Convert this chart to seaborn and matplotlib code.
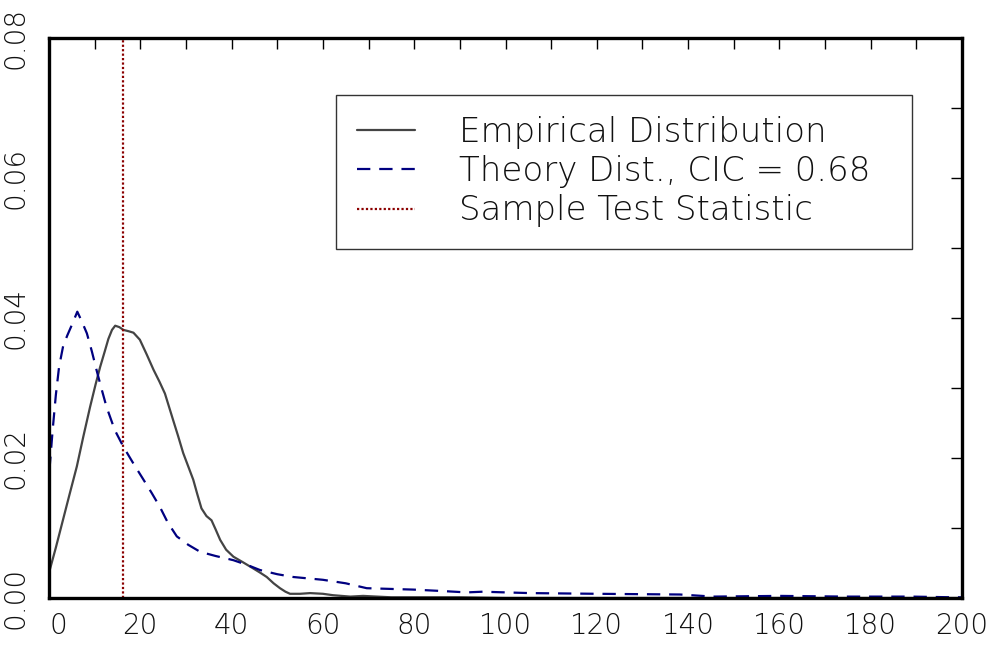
import numpy as np
import pandas as pd
import matplotlib
matplotlib.use("Agg")
import matplotlib.pyplot as plt
import matplotlib.transforms as mtransforms
import seaborn as sns

# empirical density
emp_x = [0, 1.5, 3, 4.5, 6.1, 7.5, 9.0, 10.2, 11.2, 12.2, 13.0, 13.8, 14.5, 15.4, 16.3,
         17.5, 18.5, 19.9, 21.4, 22.9, 24.2, 25.4, 26.3, 27.2, 28.3, 29.4, 30.5, 31.6,
         32.5, 33.4, 34.5, 35.6, 36.5, 37.5, 38.8, 40.4, 42.5, 44.8, 46.3, 47.7, 49.2,
         50.6, 51.8, 52.8, 55, 57.2, 60, 62.2, 66, 68.8, 75, 90, 100, 200]
emp_y = [0.0036, 0.0072, 0.0110, 0.0148, 0.0188, 0.0230, 0.0273, 0.0305, 0.0330, 0.0352,
         0.0370, 0.0383, 0.0389, 0.0387, 0.0383, 0.0381, 0.0379, 0.0369, 0.0348, 0.0326,
         0.0309, 0.0292, 0.0273, 0.0254, 0.0231, 0.0207, 0.0188, 0.0169, 0.0148, 0.0128,
         0.0117, 0.0111, 0.0098, 0.0083, 0.0069, 0.0059, 0.0051, 0.0042, 0.0036, 0.0030,
         0.0021, 0.0014, 0.0009, 0.0006, 0.0006, 0.0007, 0.0006, 0.0004, 0.0002, 0.0003,
         0.0001, 0.0001, 0.0, 0.0]

# theory density
th_x = [0.1, 0.8, 1.5, 2.2, 3.1, 4.0, 5.0, 6.2, 7.2, 8.3, 9.4, 10.4, 11.5, 12.6, 14.4,
        16.3, 18.5, 20.7, 22.5, 24.3, 26.0, 28.0, 30.5, 33.1, 36.5, 40.4, 43.5, 46.2,
        50, 53.5, 60, 65, 69.6, 79.8, 86, 91.5, 95, 100, 105.4, 120, 138.2, 145.5, 160,
        174.7, 189, 198, 200]
th_y = [0.0183, 0.0240, 0.0290, 0.0330, 0.0360, 0.0375, 0.0390, 0.0409, 0.0395, 0.0378,
        0.0352, 0.0326, 0.0299, 0.0273, 0.0240, 0.0216, 0.0192, 0.0169, 0.0150, 0.0130,
        0.0108, 0.0088, 0.0076, 0.0066, 0.0060, 0.0054, 0.0047, 0.0040, 0.0034, 0.0030,
        0.0026, 0.0021, 0.0014, 0.0012, 0.0010, 0.0008, 0.0009, 0.0008, 0.0007, 0.0006,
        0.0005, 0.0002, 0.0003, 0.0002, 0.0002, 0.0001, 0.0001]

test_stat = 16.3

x_ticks = list(range(0, 201, 20))
y_ticks = [0.00, 0.02, 0.04, 0.06, 0.08]
labels = ["Empirical Distribution", "Theory Dist., CIC = 0.68", "Sample Test Statistic"]

sns.set_style("white")
plt.rcParams['font.family'] = ['DejaVu Sans']
plt.rcParams['font.weight'] = 'light'
plt.rcParams['text.color'] = '#111111'

fig = plt.figure(figsize=(9.93, 6.45), dpi=100)
ax = fig.add_axes([49 / 993, 47 / 645, 913 / 993, 560 / 645])

emp = pd.DataFrame({"x": emp_x, "y": emp_y})
th = pd.DataFrame({"x": th_x, "y": th_y})

sns.lineplot(data=emp, x="x", y="y", ax=ax, color="#444444", lw=1.6, label=labels[0])
sns.lineplot(data=th, x="x", y="y", ax=ax, color="#000080", lw=1.6, label=labels[1])
ax.lines[-1].set_dashes((6, 4))
ax.axvline(test_stat, color="#8B0000", lw=1.6, ls=(0, (1, 1)), label=labels[2])

ax.set_xlim(0, 200)
ax.set_ylim(0, 0.08)
ax.set_xlabel("")
ax.set_ylabel("")

ax.set_xticks(x_ticks)
ax.set_xticks(range(0, 201, 10), minor=True)
ax.set_yticks(y_ticks)
ax.set_yticks(np.arange(0, 0.0801, 0.01), minor=True)
ax.set_xticklabels([str(v) for v in x_ticks], fontsize=20, fontweight='light')
ax.set_yticklabels(["%.2f" % v for v in y_ticks], fontsize=20, fontweight='light',
                   rotation=90, va="center")
ax.tick_params(which="both", direction="in", top=True, right=True, length=8, width=1,
               color="black", labelcolor="#111111")
ax.tick_params(axis="x", pad=10)
ax.tick_params(axis="y", pad=14)

# shift "0" label to the right a bit, as in the original
lab0 = ax.get_xticklabels()[0]
lab0.set_transform(lab0.get_transform() + mtransforms.ScaledTranslation(9 / 100, 0, fig.dpi_scale_trans))

for s in ax.spines.values():
    s.set_linewidth(2.4)
    s.set_color("black")
    s.set_visible(True)

# legend box spans roughly x 336..912 px, top at 95 px
leg_x0 = (336 - 49) / 913
leg_w = 0.945 - leg_x0
leg = ax.legend(loc="upper left", bbox_to_anchor=(leg_x0, 0.5, leg_w, 0.398), mode="expand",
                fontsize=24.5, frameon=True, fancybox=False, edgecolor="black",
                handlelength=1.7, borderpad=0.62, labelspacing=0.18, handletextpad=1.3,
                borderaxespad=0)
leg.get_frame().set_linewidth(1.0)
for t in leg.get_texts():
    t.set_fontweight('light')
    t.set_color('#111111')

fig.savefig("out.png", dpi=100)
